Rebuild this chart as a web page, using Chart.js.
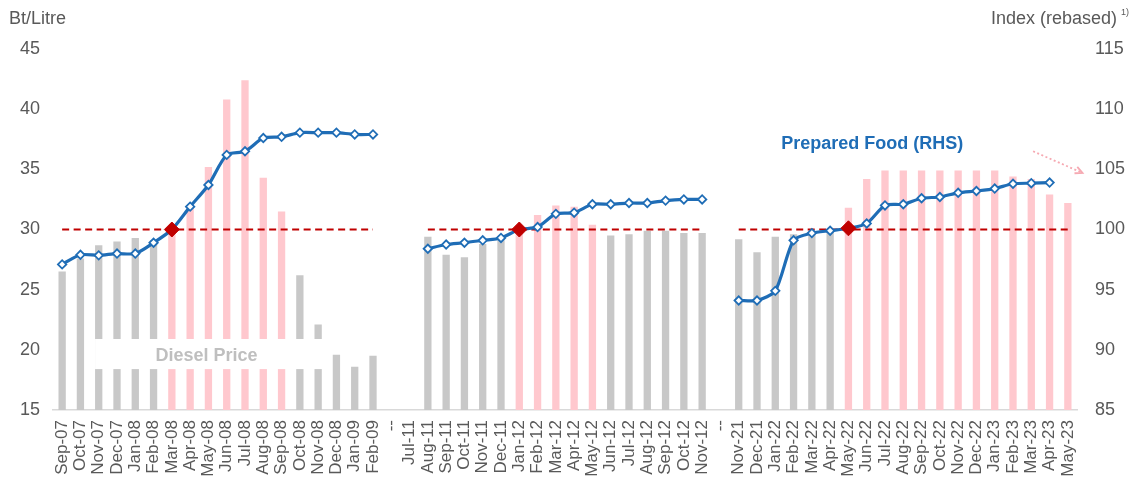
<!DOCTYPE html>
<html>
<head>
<meta charset="utf-8">
<script src="https://cdn.jsdelivr.net/npm/chart.js@4"></script>
<style>
  html, body { margin: 0; padding: 0; background: #ffffff; }
  #wrap { width: 1137px; height: 482px; position: relative; }
</style>
</head>
<body>
<div id="wrap"><canvas id="c" width="1137" height="482"></canvas></div>
<script>
// ---------- DATA ----------
const categories = [
  'Sep-07','Oct-07','Nov-07','Dec-07','Jan-08','Feb-08','Mar-08','Apr-08','May-08','Jun-08','Jul-08','Aug-08','Sep-08','Oct-08','Nov-08','Dec-08','Jan-09','Feb-09',
  '--',
  'Jul-11','Aug-11','Sep-11','Oct-11','Nov-11','Dec-11','Jan-12','Feb-12','Mar-12','Apr-12','May-12','Jun-12','Jul-12','Aug-12','Sep-12','Oct-12','Nov-12',
  '--',
  'Nov-21','Dec-21','Jan-22','Feb-22','Mar-22','Apr-22','May-22','Jun-22','Jul-22','Aug-22','Sep-22','Oct-22','Nov-22','Dec-22','Jan-23','Feb-23','Mar-23','Apr-23','May-23'
];

// Diesel price, Bt/Litre (left axis)
const dieselPrice = [
  26.5, 27.6, 28.7, 29.0, 29.3, 29.1, 30.1, 32.0, 35.2, 40.8, 42.4, 34.3, 31.5, 26.2, 22.1, 19.6, 18.6, 19.5,
  null,
  null, 29.4, 27.9, 27.7, 28.8, 29.1, 30.3, 31.2, 32.0, 31.9, 30.4, 29.5, 29.6, 29.9, 29.9, 29.7, 29.7,
  null,
  29.2, 28.1, 29.4, 29.6, 29.7, 29.85, 31.8, 34.2, 34.9, 34.9, 34.9, 34.9, 34.9, 34.9, 34.9, 34.4, 34.2, 32.9, 32.2
];

// Prepared food index, rebased (right axis)
const preparedFood = [
  97.1, 97.9, 97.85, 98.0, 98.0, 98.9, 100.0, 101.9, 103.7, 106.2, 106.5, 107.6, 107.7, 108.05, 108.05, 108.05, 107.9, 107.9,
  null,
  null, 98.4, 98.75, 98.9, 99.1, 99.3, 100.0, 100.2, 101.3, 101.4, 102.1, 102.1, 102.2, 102.2, 102.4, 102.5, 102.5,
  null,
  94.1, 94.1, 94.9, 99.1, 99.7, 99.9, 100.1, 100.5, 102.0, 102.1, 102.6, 102.7, 103.05, 103.2, 103.4, 103.8, 103.85, 103.9, null
];

// Diesel price cap at 30 Bt/Litre (dashed reference, per period)
const capLine = [
  30,30,30,30,30,30,30,30,30,30,30,30,30,30,30,30,30,30,
  null,
  null,30,30,30,30,30,30,30,30,30,30,30,30,30,30,30,30,
  null,
  30,30,30,30,30,30,30,30,30,30,30,30,30,30,30,30,30,30,30
];

// Points where diesel crossed the 30 Bt cap (highlighted)
const highlightPoints = ['Mar-08', 'Jan-12', 'May-22'];

const capValue = 30;
const leftTicks = [15, 20, 25, 30, 35, 40, 45];
const rightTicks = [85, 90, 95, 100, 105, 110, 115];

// ---------- STYLE ----------
const GRAY = '#C8C8C8';
const PINK = '#FFC8CE';
const BLUE = '#1F6DB6';
const RED = '#C00000';
const TXT = '#595959';
const FONT = '"Liberation Sans", Arial, sans-serif';

const barColors = dieselPrice.map(v => (v !== null && v >= capValue) ? PINK : GRAY);
const ptRadius = categories.map(c => highlightPoints.includes(c) ? 7.5 : 4.2);
const ptBg = categories.map(c => highlightPoints.includes(c) ? RED : '#FFFFFF');
const ptBorder = categories.map(c => highlightPoints.includes(c) ? RED : BLUE);
const ptBorderW = categories.map(c => highlightPoints.includes(c) ? 1 : 1.8);

const annotations = {
  id: 'annotations',
  afterDatasetsDraw(chart) {
    const ctx = chart.ctx;
    const x = chart.scales.x, y = chart.scales.y, y2 = chart.scales.y2;
    ctx.save();
    // Diesel Price label with white box
    const bx1 = x.getPixelForValue(1.8), bx2 = x.getPixelForValue(14.55);
    const by1 = y.getPixelForValue(20.9), by2 = y.getPixelForValue(18.4);
    ctx.fillStyle = '#FFFFFF';
    ctx.fillRect(bx1, by1, bx2 - bx1, by2 - by1);
    ctx.fillStyle = '#BFBFBF';
    ctx.font = 'bold 18px ' + FONT;
    ctx.textAlign = 'center';
    ctx.textBaseline = 'middle';
    ctx.fillText('Diesel Price', x.getPixelForValue(7.9), y.getPixelForValue(19.5));

    // Prepared Food label
    ctx.fillStyle = BLUE;
    ctx.fillText('Prepared Food (RHS)', x.getPixelForValue(44.3), y2.getPixelForValue(107.1));

    // Dotted pink arrow
    const ax1 = x.getPixelForValue(53.1), ay1 = y2.getPixelForValue(106.5);
    const ax2 = x.getPixelForValue(55.8), ay2 = y2.getPixelForValue(104.7);
    ctx.strokeStyle = '#F6A9B2';
    ctx.lineWidth = 1.8;
    ctx.setLineDash([2, 2.5]);
    ctx.beginPath();
    ctx.moveTo(ax1, ay1);
    ctx.lineTo(ax2, ay2);
    ctx.stroke();
    ctx.setLineDash([]);
    const ang = Math.atan2(ay2 - ay1, ax2 - ax1);
    ctx.beginPath();
    ctx.moveTo(ax2 - 8 * Math.cos(ang - 0.45), ay2 - 8 * Math.sin(ang - 0.45));
    ctx.lineTo(ax2, ay2);
    ctx.lineTo(ax2 - 8 * Math.cos(ang + 0.45), ay2 - 8 * Math.sin(ang + 0.45));
    ctx.stroke();

    // Axis titles
    ctx.fillStyle = TXT;
    ctx.font = '18px ' + FONT;
    ctx.textAlign = 'left';
    ctx.fillText('Bt/Litre', 9, 19);
    ctx.textAlign = 'right';
    ctx.fillText('Index (rebased)', 1117, 19);
    ctx.font = '9px ' + FONT;
    ctx.textAlign = 'left';
    ctx.fillText('1)', 1121, 13);
    ctx.restore();
  }
};

new Chart(document.getElementById('c'), {
  data: {
    labels: categories,
    datasets: [
      {
        type: 'line',
        label: 'Prepared Food (RHS)',
        data: preparedFood,
        yAxisID: 'y2',
        borderColor: BLUE,
        borderWidth: 3.2,
        tension: 0.25,
        spanGaps: false,
        pointStyle: 'rectRot',
        pointRadius: ptRadius,
        pointBackgroundColor: ptBg,
        pointBorderColor: ptBorder,
        pointBorderWidth: ptBorderW,
        order: 0
      },
      {
        type: 'line',
        label: 'Cap',
        data: capLine,
        yAxisID: 'y',
        borderColor: RED,
        borderWidth: 2,
        borderDash: [7, 4.5],
        pointRadius: 0,
        spanGaps: false,
        order: 1
      },
      {
        type: 'bar',
        label: 'Diesel Price',
        data: dieselPrice,
        yAxisID: 'y',
        backgroundColor: barColors,
        barPercentage: 0.4,
        categoryPercentage: 1.0,
        order: 2
      }
    ]
  },
  options: {
    responsive: false,
    animation: false,
    events: [],
    layout: { padding: { top: 49, left: 0, right: 0, bottom: 0 } },
    plugins: { legend: { display: false }, tooltip: { enabled: false } },
    scales: {
      x: {
        grid: { display: false, drawTicks: false, tickLength: 0 },
        border: { display: true, color: '#D9D9D9', width: 1.5 },
        ticks: {
          autoSkip: false, minRotation: 90, maxRotation: 90, padding: 10,
          color: TXT, font: { family: FONT, size: 17 }
        },
        afterFit(s) { s.height = 72; }
      },
      y: {
        position: 'left', min: 15, max: 45,
        grid: { display: false, drawTicks: false },
        border: { display: false },
        afterBuildTicks(s) { s.ticks = leftTicks.map(v => ({ value: v })); },
        ticks: { padding: 13, color: TXT, font: { family: FONT, size: 18 } },
        afterFit(s) { s.width = 53; }
      },
      y2: {
        position: 'right', min: 85, max: 115,
        grid: { display: false, drawTicks: false },
        border: { display: false },
        afterBuildTicks(s) { s.ticks = rightTicks.map(v => ({ value: v })); },
        ticks: { padding: 18, color: TXT, font: { family: FONT, size: 18 } },
        afterFit(s) { s.width = 60; }
      }
    }
  },
  plugins: [annotations]
});
</script>
</body>
</html>
